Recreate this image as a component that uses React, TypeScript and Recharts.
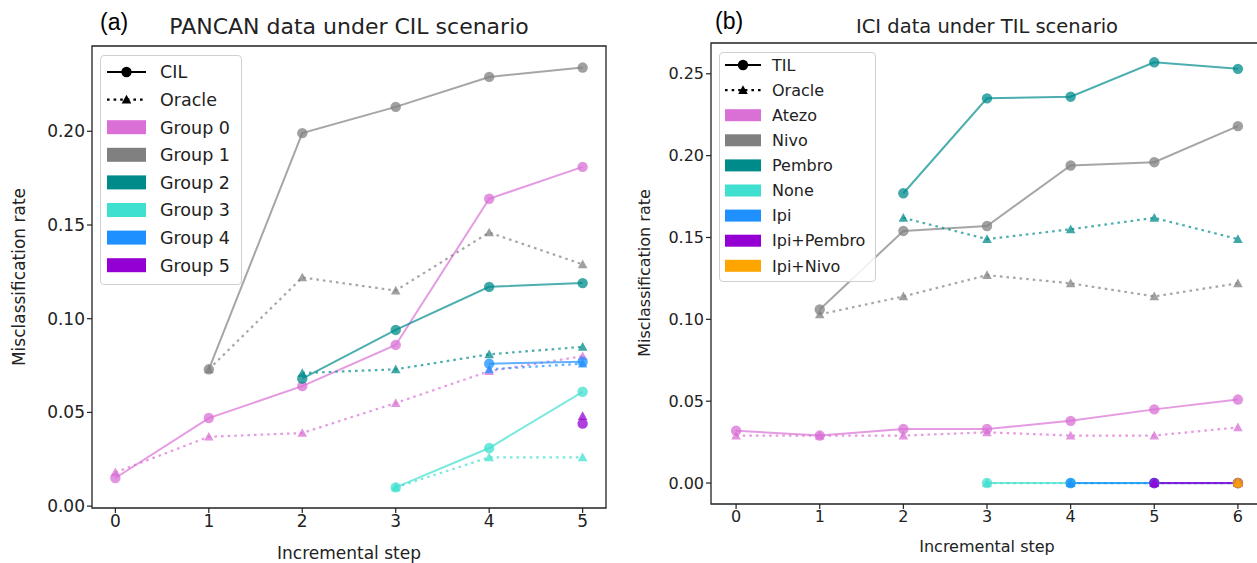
import { LineChart, Line, XAxis, YAxis, ReferenceArea } from "recharts";

type Val = number | null;
type Series = { name: string; color: string; cil: Val[]; oracle: Val[] };

// ---- (a) PANCAN data under CIL scenario ----
const LEFT_STEPS = [0, 1, 2, 3, 4, 5];
const LEFT_Y_TICKS = [0, 0.05, 0.1, 0.15, 0.2];

const G0_CIL = [0.015, 0.047, 0.064, 0.086, 0.164, 0.181];
const G0_ORACLE = [0.018, 0.037, 0.039, 0.055, 0.072, 0.08];
const G1_CIL = [null, 0.073, 0.199, 0.213, 0.229, 0.234];
const G1_ORACLE = [null, 0.073, 0.122, 0.115, 0.146, 0.129];
const G2_CIL = [null, null, 0.068, 0.094, 0.117, 0.119];
const G2_ORACLE = [null, null, 0.071, 0.073, 0.081, 0.085];
const G3_CIL = [null, null, null, 0.01, 0.031, 0.061];
const G3_ORACLE = [null, null, null, 0.01, 0.026, 0.026];
const G4_CIL = [null, null, null, null, 0.076, 0.077];
const G4_ORACLE = [null, null, null, null, 0.073, 0.076];
const G5_CIL = [null, null, null, null, null, 0.044];
const G5_ORACLE = [null, null, null, null, null, 0.048];

// ---- (b) ICI data under TIL scenario ----
const RIGHT_STEPS = [0, 1, 2, 3, 4, 5, 6];
const RIGHT_Y_TICKS = [0, 0.05, 0.1, 0.15, 0.2, 0.25];

const ATEZO_TIL = [0.032, 0.029, 0.033, 0.033, 0.038, 0.045, 0.051];
const ATEZO_ORACLE = [0.029, 0.029, 0.029, 0.031, 0.029, 0.029, 0.034];
const NIVO_TIL = [null, 0.106, 0.154, 0.157, 0.194, 0.196, 0.218];
const NIVO_ORACLE = [null, 0.103, 0.114, 0.127, 0.122, 0.114, 0.122];
const PEMBRO_TIL = [null, null, 0.177, 0.235, 0.236, 0.257, 0.253];
const PEMBRO_ORACLE = [null, null, 0.162, 0.149, 0.155, 0.162, 0.149];
const NONE_TIL = [null, null, null, 0, 0, 0, 0];
const NONE_ORACLE = [null, null, null, 0, 0, 0, 0];
const IPI_TIL = [null, null, null, null, 0, 0, 0];
const IPI_ORACLE = [null, null, null, null, 0, 0, 0];
const IPI_PEMBRO_TIL = [null, null, null, null, null, 0, 0];
const IPI_PEMBRO_ORACLE = [null, null, null, null, null, 0, 0];
const IPI_NIVO_TIL = [null, null, null, null, null, null, 0];
const IPI_NIVO_ORACLE = [null, null, null, null, null, null, 0];

const LEFT_SERIES: Series[] = [
  { name: "Group 0", color: "#da70d6", cil: G0_CIL, oracle: G0_ORACLE },
  { name: "Group 1", color: "#808080", cil: G1_CIL, oracle: G1_ORACLE },
  { name: "Group 2", color: "#008b8b", cil: G2_CIL, oracle: G2_ORACLE },
  { name: "Group 3", color: "#40e0d0", cil: G3_CIL, oracle: G3_ORACLE },
  { name: "Group 4", color: "#1e90ff", cil: G4_CIL, oracle: G4_ORACLE },
  { name: "Group 5", color: "#9400d3", cil: G5_CIL, oracle: G5_ORACLE },
];

const RIGHT_SERIES: Series[] = [
  { name: "Atezo", color: "#da70d6", cil: ATEZO_TIL, oracle: ATEZO_ORACLE },
  { name: "Nivo", color: "#808080", cil: NIVO_TIL, oracle: NIVO_ORACLE },
  { name: "Pembro", color: "#008b8b", cil: PEMBRO_TIL, oracle: PEMBRO_ORACLE },
  { name: "None", color: "#40e0d0", cil: NONE_TIL, oracle: NONE_ORACLE },
  { name: "Ipi", color: "#1e90ff", cil: IPI_TIL, oracle: IPI_ORACLE },
  { name: "Ipi+Pembro", color: "#9400d3", cil: IPI_PEMBRO_TIL, oracle: IPI_PEMBRO_ORACLE },
  { name: "Ipi+Nivo", color: "#ffa500", cil: IPI_NIVO_TIL, oracle: IPI_NIVO_ORACLE },
];

const FONT = "DejaVu Sans";
const INK = "#222";
const DOTTED = "2.6 4";

function buildRows(steps: number[], series: Series[]) {
  return steps.map((s, i) => {
    const row: Record<string, Val> = { step: s };
    series.forEach((g, j) => {
      row[`c${j}`] = g.cil[i];
      row[`o${j}`] = g.oracle[i];
    });
    return row;
  });
}

function triangleDot(color: string) {
  return (props: any) => {
    const { cx, cy, index } = props;
    if (cx == null || cy == null || Number.isNaN(cx) || Number.isNaN(cy)) {
      return <g key={`t-${index}`} />;
    }
    const s = 4.8;
    return (
      <polygon
        key={`t-${index}`}
        points={`${cx},${cy - s} ${cx - s},${cy + s * 0.8} ${cx + s},${cy + s * 0.8}`}
        fill={color}
        fillOpacity={0.75}
      />
    );
  };
}

type PanelProps = {
  steps: number[];
  series: Series[];
  xDomain: [number, number];
  yDomain: [number, number];
  yTicks: number[];
  width: number;
  height: number;
  margin: { top: number; right: number; bottom: number; left: number };
  fontSize: number;
  left: number;
};

function Panel(p: PanelProps) {
  const rows = buildRows(p.steps, p.series);
  const tick = { fontSize: p.fontSize, fill: INK, fontFamily: FONT };
  return (
    <div style={{ position: "absolute", left: p.left, top: 0 }}>
      <LineChart width={p.width} height={p.height} data={rows} margin={p.margin}>
        <XAxis
          dataKey="step"
          type="number"
          domain={p.xDomain}
          ticks={p.steps}
          allowDataOverflow
          axisLine={false}
          tickLine={{ stroke: INK, strokeWidth: 1.2 }}
          tickSize={5}
          tick={tick}
          height={30}
          interval={0}
        />
        <YAxis
          type="number"
          domain={p.yDomain}
          ticks={p.yTicks}
          allowDataOverflow
          axisLine={false}
          tickLine={{ stroke: INK, strokeWidth: 1.2 }}
          tickSize={5}
          tick={tick}
          width={60}
          interval={0}
          tickFormatter={(v: number) => v.toFixed(2)}
        />
        {p.series.flatMap((g, j) => [
          <Line
            key={`c${j}`}
            type="linear"
            dataKey={`c${j}`}
            stroke={g.color}
            strokeOpacity={0.7}
            strokeWidth={2}
            dot={{ r: 5.2, fill: g.color, fillOpacity: 0.75, stroke: "none" }}
            activeDot={false}
            isAnimationActive={false}
          />,
          <Line
            key={`o${j}`}
            type="linear"
            dataKey={`o${j}`}
            stroke={g.color}
            strokeOpacity={0.7}
            strokeWidth={2.2}
            strokeDasharray={DOTTED}
            dot={triangleDot(g.color)}
            activeDot={false}
            isAnimationActive={false}
          />,
        ])}
        <ReferenceArea
          x1={p.xDomain[0]}
          x2={p.xDomain[1]}
          y1={p.yDomain[0]}
          y2={p.yDomain[1]}
          fill="none"
          fillOpacity={0}
          stroke={INK}
          strokeWidth={1.3}
          ifOverflow="visible"
        />
      </LineChart>
    </div>
  );
}

type LegendProps = {
  left: number;
  top: number;
  width: number;
  height: number;
  firstRow: number;
  rowGap: number;
  patchLeft: number;
  patchWidth: number;
  patchHeight: number;
  textLeft: number;
  fontSize: number;
  lineLabel: string;
  series: Series[];
};

function LegendBox(p: LegendProps) {
  const rowY = (i: number) => p.firstRow + i * p.rowGap - p.top;
  const pl = p.patchLeft - p.left;
  const tl = p.textLeft - p.left;
  const mid = pl + p.patchWidth / 2;
  return (
    <div
      style={{
        position: "absolute",
        left: p.left,
        top: p.top,
        width: p.width,
        height: p.height,
        border: "1px solid #d0d0d0",
        borderRadius: 4,
        background: "rgba(255,255,255,0.85)",
        boxSizing: "border-box",
      }}
    >
      <svg width={p.width} height={p.height} style={{ position: "absolute", left: -1, top: -1 }}>
        <line x1={pl} x2={pl + p.patchWidth} y1={rowY(0)} y2={rowY(0)} stroke="#000" strokeWidth={2} />
        <circle cx={mid} cy={rowY(0)} r={5.2} fill="#000" />
        <line
          x1={pl}
          x2={pl + p.patchWidth}
          y1={rowY(1)}
          y2={rowY(1)}
          stroke="#000"
          strokeWidth={2.2}
          strokeDasharray={DOTTED}
        />
        <polygon
          points={`${mid},${rowY(1) - 4.8} ${mid - 4.8},${rowY(1) + 3.8} ${mid + 4.8},${rowY(1) + 3.8}`}
          fill="#000"
        />
        {p.series.map((g, i) => (
          <rect
            key={g.name}
            x={pl}
            y={rowY(i + 2) - p.patchHeight / 2}
            width={p.patchWidth}
            height={p.patchHeight}
            fill={g.color}
          />
        ))}
        {[p.lineLabel, "Oracle", ...p.series.map((g) => g.name)].map((t, i) => (
          <text
            key={t}
            x={tl}
            y={rowY(i)}
            dy="0.36em"
            fontSize={p.fontSize}
            fontFamily={FONT}
            fill={INK}
          >
            {t}
          </text>
        ))}
      </svg>
    </div>
  );
}

export default function App() {
  return (
    <div
      style={{
        position: "absolute",
        left: 0,
        top: 0,
        width: 1257,
        height: 563,
        overflow: "hidden",
        background: "#fff",
        fontFamily: FONT,
      }}
    >
      <Panel
        left={0}
        steps={LEFT_STEPS}
        series={LEFT_SERIES}
        xDomain={[-0.25, 5.25]}
        yDomain={[-0.001, 0.2455]}
        yTicks={LEFT_Y_TICKS}
        width={640}
        height={563}
        margin={{ top: 46, right: 34, bottom: 25, left: 32 }}
        fontSize={17}
      />
      <Panel
        left={640}
        steps={RIGHT_STEPS}
        series={RIGHT_SERIES}
        xDomain={[-0.3, 6.3]}
        yDomain={[-0.0128, 0.2688]}
        yTicks={RIGHT_Y_TICKS}
        width={640}
        height={563}
        margin={{ top: 43, right: 17, bottom: 29, left: 11 }}
        fontSize={16}
      />
      <LegendBox
        left={100}
        top={55}
        width={142}
        height={230}
        firstRow={72}
        rowGap={27.6}
        patchLeft={107}
        patchWidth={39}
        patchHeight={14}
        textLeft={160}
        fontSize={17.5}
        lineLabel="CIL"
        series={LEFT_SERIES}
      />
      <LegendBox
        left={719}
        top={52}
        width={157}
        height={230}
        firstRow={65}
        rowGap={25.1}
        patchLeft={725}
        patchWidth={36}
        patchHeight={12}
        textLeft={772}
        fontSize={16}
        lineLabel="TIL"
        series={RIGHT_SERIES}
      />
      <svg width={1257} height={563} style={{ position: "absolute", left: 0, top: 0, pointerEvents: "none" }}>
        <text x={100} y={30} fontSize={23} fontFamily="Liberation Sans" fill="#000">
          (a)
        </text>
        <text x={349} y={34} fontSize={22} fontFamily={FONT} fill={INK} textAnchor="middle">
          PANCAN data under CIL scenario
        </text>
        <text x={715} y={29} fontSize={23} fontFamily="Liberation Sans" fill="#000">
          (b)
        </text>
        <text x={987} y={33} fontSize={19.5} fontFamily={FONT} fill={INK} textAnchor="middle">
          ICI data under TIL scenario
        </text>
        <text x={349} y={559} fontSize={17} fontFamily={FONT} fill={INK} textAnchor="middle">
          Incremental step
        </text>
        <text x={987} y={552} fontSize={16} fontFamily={FONT} fill={INK} textAnchor="middle">
          Incremental step
        </text>
        <text
          x={0}
          y={0}
          fontSize={17}
          fontFamily={FONT}
          fill={INK}
          textAnchor="middle"
          transform="translate(25,277) rotate(-90)"
        >
          Misclassification rate
        </text>
        <text
          x={0}
          y={0}
          fontSize={16}
          fontFamily={FONT}
          fill={INK}
          textAnchor="middle"
          transform="translate(650,273) rotate(-90)"
        >
          Misclassification rate
        </text>
      </svg>
    </div>
  );
}
